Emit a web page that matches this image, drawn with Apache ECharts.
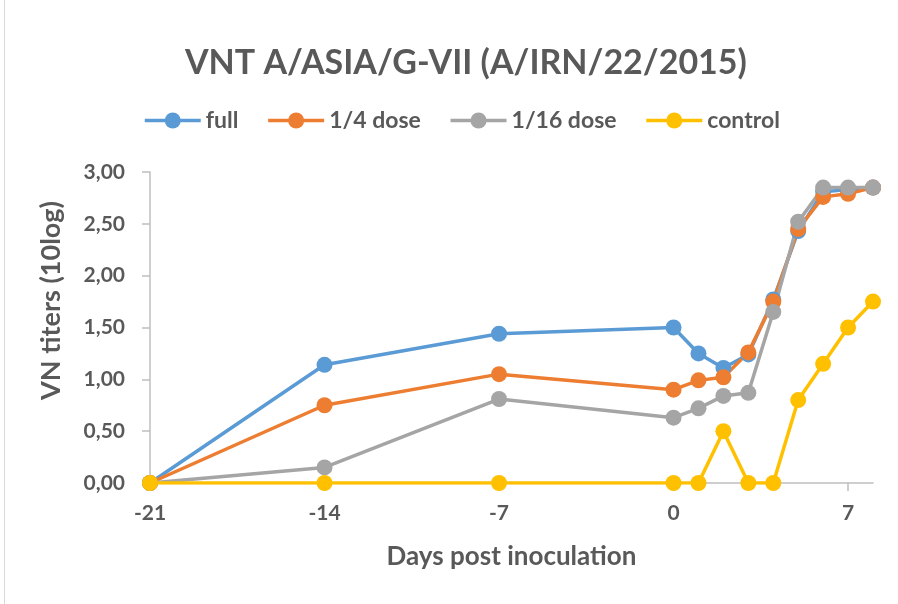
<!DOCTYPE html>
<html>
<head>
<meta charset="utf-8">
<title>VNT A/ASIA/G-VII</title>
<script src="https://cdn.jsdelivr.net/npm/echarts@6/dist/echarts.min.js"></script>
<style>
  html, body { margin: 0; padding: 0; background: #fff; }
  #chart { width: 898px; height: 604px; }
</style>
</head>
<body>
<div id="chart"></div>
<script>
// days post inoculation
var days = [-21, -14, -7, 0, 1, 2, 3, 4, 5, 6, 7, 8];

// VN titers (10log) per group
var full      = [0, 1.14, 1.44, 1.50, 1.25, 1.11, 1.24, 1.77, 2.43, 2.81, 2.83, 2.85];
var quarter   = [0, 0.75, 1.05, 0.90, 0.99, 1.02, 1.26, 1.75, 2.45, 2.76, 2.79, 2.85];
var sixteenth = [0, 0.15, 0.81, 0.63, 0.72, 0.84, 0.87, 1.65, 2.52, 2.85, 2.85, 2.85];
var control   = [0, 0, 0, 0, 0, 0.50, 0, 0, 0.80, 1.15, 1.50, 1.75];

var names = ['full', '1/4 dose', '1/16 dose', 'control'];
var colors = ['#5b9bd5', '#ed7d31', '#a5a5a5', '#ffc000'];
var groups = [full, quarter, sixteenth, control];

var txt = '#595959';
var font = 'Lato, "Open Sans", sans-serif';

function pairs(vals) {
    return days.map(function (d, i) { return [d, vals[i]]; });
}

var myChart = echarts.init(document.getElementById('chart'));

var option = {
    backgroundColor: '#fff',
    animation: false,
    color: colors,
    title: {
        text: 'VNT A/ASIA/G-VII (A/IRN/22/2015)',
        left: 180,
        top: 41,
        textStyle: { color: txt, fontSize: 34, fontWeight: 'bold', fontFamily: font }
    },
    legend: {
        data: names,
        left: 138,
        top: 104,
        itemWidth: 56,
        itemHeight: 20,
        itemGap: 28,
        lineStyle: { width: 3.5 },
        textStyle: { color: txt, fontSize: 23, fontWeight: 'bold', fontFamily: font }
    },
    grid: { left: 150, right: 25, top: 172, bottom: 121, containLabel: false },
    xAxis: {
        type: 'value',
        min: -21,
        max: 8,
        interval: 7,
        name: 'Days post inoculation',
        nameLocation: 'middle',
        nameGap: 61,
        nameTextStyle: { color: txt, fontSize: 26, fontWeight: 'bold', fontFamily: font },
        axisLine: { onZero: false, lineStyle: { color: '#bfbfbf', width: 1.5 } },
        axisTick: { show: true, length: 8, lineStyle: { color: '#bfbfbf', width: 1.5 } },
        splitLine: { show: false },
        axisLabel: {
            color: txt, fontSize: 21, fontWeight: 'bold', fontFamily: font, margin: 20,
            showMaxLabel: false,
            formatter: function (v) { return v === 8 ? '' : String(v); }
        }
    },
    yAxis: {
        type: 'value',
        min: 0,
        max: 3,
        interval: 0.5,
        name: 'VN titers (10log)',
        nameLocation: 'middle',
        nameGap: 85,
        nameTextStyle: {
            color: txt, fontSize: 27, fontWeight: 'bold', fontFamily: font,
            padding: [0, 0, 0, 54]
        },
        axisLine: { show: true, onZero: false, lineStyle: { color: '#bfbfbf', width: 1.5 } },
        axisTick: { show: true, length: 8, lineStyle: { color: '#bfbfbf', width: 1.5 } },
        splitLine: { show: false },
        axisLabel: {
            color: txt, fontSize: 21, fontWeight: 'bold', fontFamily: font, margin: 25,
            formatter: function (v) { return v.toFixed(2).replace('.', ','); }
        }
    },
    graphic: [{
        type: 'line',
        shape: { x1: 4.5, y1: 0, x2: 4.5, y2: 604 },
        style: { stroke: '#d9d9d9', lineWidth: 1 },
        silent: true
    }],
    series: groups.map(function (g, i) {
        return {
            name: names[i],
            type: 'line',
            data: pairs(g),
            symbol: 'circle',
            symbolSize: 16,
            lineStyle: { width: 3.5, color: colors[i] },
            itemStyle: { color: colors[i] }
        };
    })
};

myChart.setOption(option);
</script>
</body>
</html>
